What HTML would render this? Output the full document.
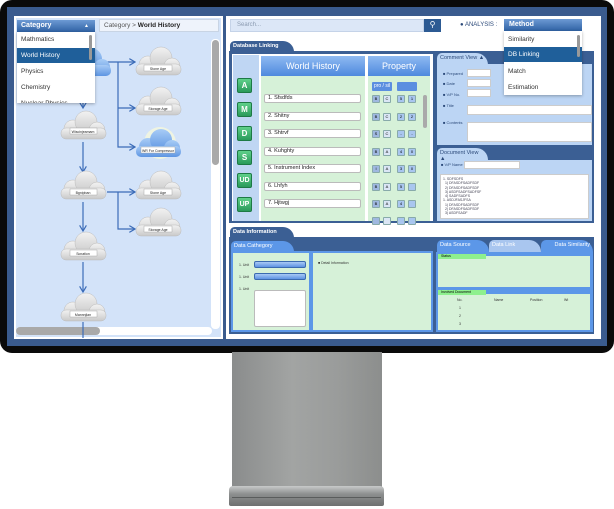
<!DOCTYPE html>
<html><head><meta charset="utf-8"><style>
*{margin:0;padding:0;box-sizing:border-box}
body{width:614px;height:509px;background:#fff;position:relative;overflow:hidden;font-family:"Liberation Sans",sans-serif}
.a{position:absolute}
.t{font-size:7px;color:#333;white-space:nowrap}
.btn{position:absolute;left:237px;width:15px;height:15px;background:linear-gradient(#5fd08a,#2a9a5a);border:1px solid #1d7a45;border-radius:2px;color:#fff;font-size:8px;font-weight:bold;text-align:center;line-height:13px}
.inp{position:absolute;left:264px;width:97px;height:9px;background:#fff;border:1px solid #bbb;border-radius:2px;font-size:5.5px;line-height:7px;padding-left:3px;color:#222}
.sq{position:absolute;width:8px;height:8px;border:1px solid #8aa;border-radius:1px;font-size:4px;text-align:center;line-height:6px}
.hd{background:linear-gradient(#8fbaf2,#4e89de);color:#fff;font-size:9px;text-align:center}
.tab{position:absolute;background:#3b5f94;color:#fff;font-size:5.5px;font-weight:bold;padding:2px 3px;border-radius:5px 12px 0 0}
.tab2{position:absolute;background:#5c97e8;color:#fff;font-size:5.5px;padding:2px 3px;border-radius:5px 12px 0 0}
.dd{position:absolute;font-size:6.5px;color:#333;padding-left:4px}
</style></head><body>
<!-- monitor -->
<div class="a" style="left:0;top:0;width:614px;height:353px;background:#0a0a0a;border-radius:12px"></div>
<div class="a" style="left:7px;top:7px;width:600px;height:339px;background:#3a5b8e"></div>
<div class="a" style="left:232px;top:352px;width:150px;height:136px;background:linear-gradient(90deg,#8a8c8c,#a2a4a3 40%,#9a9c9b 70%,#8c8e8d)"></div>
<div class="a" style="left:229px;top:486px;width:155px;height:20px;border-radius:4px 4px 2px 2px;background:linear-gradient(#c8caca,#8d8f8f 40%,#6e7070)"></div>
<div class="a" style="left:232px;top:497px;width:149px;height:1px;background:#5a5c5c"></div>
<!-- left panel -->
<div class="a" style="left:14px;top:16px;width:209px;height:323px;background:#fff"></div>
<div class="a" style="left:16px;top:18px;width:205px;height:319px;background:#d3e3f9"></div>
<div class="a" style="left:99px;top:19px;width:120px;height:13px;background:#eef3fb;border:1px solid #c8d4e4;font-size:6.5px;color:#555;line-height:11px;padding-left:4px">Category &gt; <b style="color:#222">World History</b></div>
<div class="a" style="left:211px;top:39px;width:9px;height:290px;background:#fff;border-radius:4px"></div>
<div class="a" style="left:212px;top:40px;width:7px;height:125px;background:#a9a9a9;border-radius:4px"></div>
<div class="a" style="left:16px;top:327px;width:196px;height:8px;background:#fff;border-radius:4px"></div>
<div class="a" style="left:16px;top:327px;width:84px;height:8px;background:#a9a9a9;border-radius:4px"></div>
<svg class="a" style="left:0;top:0" width="230" height="345">
<defs>
<linearGradient id="g" x1="0" y1="0" x2="0" y2="1"><stop offset="0" stop-color="#f2f2f2"/><stop offset="1" stop-color="#c9c9c9"/></linearGradient>
<linearGradient id="b" x1="0" y1="0" x2="0" y2="1"><stop offset="0" stop-color="#a8ccf6"/><stop offset="1" stop-color="#5d95e2"/></linearGradient>
<g id="c"><circle cx="-10" cy="4" r="9"/><circle cx="3" cy="-3" r="11"/><circle cx="14" cy="5" r="8"/><rect x="-22" y="3" width="45" height="11" rx="5"/></g>
<marker id="m" markerWidth="6" markerHeight="6" refX="5" refY="3" orient="auto"><path d="M0,0 L5,3 L0,6" fill="none" stroke="#3c6cb8" stroke-width="1"/></marker>
</defs>
<g stroke="#3c6cb8" stroke-width="1.2" fill="none">
<path d="M107 62H135" marker-end="url(#m)"/><path d="M118 62V147H135" marker-end="url(#m)"/><path d="M118 108H135" marker-end="url(#m)"/>
<path d="M83 100V108" marker-end="url(#m)"/><path d="M83 142V172" marker-end="url(#m)"/><path d="M83 202V231" marker-end="url(#m)"/><path d="M83 262V292" marker-end="url(#m)"/><path d="M83 322V338"/>
<path d="M107 192H135" marker-end="url(#m)"/><path d="M118 192V229H135" marker-end="url(#m)"/>
</g>
<g fill="url(#g)" stroke="#bbb" stroke-width="0.5">
<use href="#c" x="83" y="125"/><use href="#c" x="83" y="185"/><use href="#c" x="83" y="246"/><use href="#c" x="83" y="307"/>
<use href="#c" x="158" y="61"/><use href="#c" x="158" y="101"/><use href="#c" x="158" y="185"/><use href="#c" x="158" y="222"/>
</g>
<circle cx="160" cy="143" r="16" fill="#fbfbd8" opacity=".7"/>
<g fill="url(#b)"><use href="#c" x="158" y="143"/><use href="#c" x="88" y="62"/></g>
<g fill="#fff" stroke="#999" stroke-width=".4">
<rect x="70" y="128" width="27" height="6"/><rect x="70" y="189" width="27" height="6"/><rect x="70" y="250" width="27" height="6"/><rect x="70" y="311" width="27" height="6"/>
<rect x="144" y="65" width="28" height="6"/><rect x="144" y="105" width="28" height="6"/><rect x="141" y="147" width="34" height="6"/><rect x="144" y="189" width="28" height="6"/><rect x="144" y="226" width="28" height="6"/>
</g>
<g font-size="3.5" fill="#222" text-anchor="middle" font-family="Liberation Sans">
<text x="83" y="133">Wiscinjeamam</text><text x="83" y="194">Bgnipban</text><text x="83" y="255">Scnation</text><text x="83" y="316">Mannnjlan</text>
<text x="158" y="70">Stone Age</text><text x="158" y="110">Storage Age</text><text x="158" y="152">WR For Compressor</text><text x="158" y="194">Stone Age</text><text x="158" y="231">Storage Age</text>
</g>
</svg>
<!-- category dropdown -->
<div class="a" style="left:17px;top:20px;width:78px;height:12px;background:linear-gradient(#6d9ad4,#2f62a4);color:#fff;font-size:7px;font-weight:bold;line-height:12px;padding-left:4px">Category<span style="float:right;margin-right:6px;font-size:5px">▲</span></div>
<div class="a" style="left:17px;top:32px;width:78px;height:71px;background:#fff;box-shadow:0 1px 3px rgba(0,0,0,.3);overflow:hidden">
<div class="dd" style="top:4px">Mathmatics</div>
<div class="a" style="left:0;top:16px;width:78px;height:15px;background:#1f5f9a"></div>
<div class="dd" style="top:20px;color:#fff">World History</div>
<div class="dd" style="top:36px">Physics</div><div class="dd" style="top:52px">Chemistry</div><div class="dd" style="top:68px">Nuclear Physics</div>
<div class="a" style="left:72px;top:3px;width:3px;height:25px;background:#999;border-radius:2px"></div>
</div>
<!-- right panel -->
<div class="a" style="left:226px;top:16px;width:375px;height:323px;background:#fff"></div>
<div class="a" style="left:230px;top:19px;width:194px;height:13px;background:#dce7f7;border:1px solid #c5d3e8;font-size:6px;color:#8a9ab0;line-height:11px;padding-left:6px">Search...</div>
<div class="a" style="left:424px;top:19px;width:17px;height:13px;background:#2c5a93;color:#fff;font-size:8px;text-align:center;line-height:12px">⚲</div>
<div class="a t" style="left:460px;top:22px;font-size:6px;color:#2c4a7a"><span style="color:#2c4a7a">●</span> ANALYSIS :</div>
<!-- database linking -->
<div class="tab" style="left:230px;top:41px;width:64px;height:11px">Database Linking</div>
<div class="a" style="left:229px;top:51px;width:365px;height:172px;background:#3b5f94"></div>
<div class="a" style="left:232px;top:54px;width:201px;height:167px;background:#fff"></div>
<div class="a" style="left:233px;top:55px;width:26px;height:166px;background:#bfd6f3"></div>
<div class="btn" style="top:78px">A</div><div class="btn" style="top:102px">M</div><div class="btn" style="top:126px">D</div><div class="btn" style="top:150px">S</div><div class="btn" style="top:173px;font-size:7px">UD</div><div class="btn" style="top:197px;font-size:7px">UP</div>
<div class="a hd" style="left:261px;top:56px;width:104px;height:20px;line-height:20px">World History</div>
<div class="a" style="left:261px;top:76px;width:104px;height:145px;background:#d6f1d8"></div>
<div class="a hd" style="left:368px;top:56px;width:62px;height:20px;line-height:20px">Property</div>
<div class="a" style="left:368px;top:76px;width:62px;height:145px;background:#d6f1d8"></div>
<div class="inp" style="top:94px">1. Sfsdfds</div><div class="inp" style="top:112px">2. Shitny</div><div class="inp" style="top:129px">3. Shtrvf</div><div class="inp" style="top:147px">4. Kuhghty</div><div class="inp" style="top:164px">5. Instrument Index</div><div class="inp" style="top:182px">6. Lhfyh</div><div class="inp" style="top:199px">7. Hjtwgj</div>
<div class="a" style="left:372px;top:82px;width:20px;height:9px;background:#5b8ee0;color:#fff;font-size:5px;text-align:center;line-height:9px;border-radius:1px">pro / sil</div>
<div class="a" style="left:397px;top:82px;width:20px;height:9px;background:#5b8ee0;border-radius:1px"></div>
<div class="a" style="left:423px;top:95px;width:4px;height:33px;background:#aaa;border-radius:2px"></div>
<div id="sqs"></div>
<!-- comment view -->
<div class="tab2" style="left:437px;top:53px;width:51px;height:12px;background:#bcd5f4;color:#2c4a7a">Comment View ▲</div>
<div class="a" style="left:437px;top:64px;width:155px;height:81px;background:#bcd5f4"></div>
<div class="a" style="left:443px;top:67px;width:146px;height:75px;font-size:4px;color:#2c4a7a">
<div class="a" style="top:4px">■ Prepared</div><div class="a" style="top:14px">■ Date</div><div class="a" style="top:25px">■ V/P No.</div><div class="a" style="top:36px">■ Title</div><div class="a" style="top:53px">■ Contents</div>
<div class="a" style="left:24px;top:2px;width:24px;height:8px;background:#fff;border:1px solid #ccc"></div>
<div class="a" style="left:24px;top:12px;width:24px;height:8px;background:#fff;border:1px solid #ccc"></div>
<div class="a" style="left:24px;top:22px;width:24px;height:8px;background:#fff;border:1px solid #ccc"></div>
<div class="a" style="left:24px;top:38px;width:125px;height:10px;background:#fff;border:1px solid #ccc"></div>
<div class="a" style="left:24px;top:55px;width:125px;height:20px;background:#fff;border:1px solid #ccc"></div>
</div>
<div class="tab2" style="left:437px;top:148px;width:51px;height:12px;background:#bcd5f4;color:#2c4a7a">Document View ▲</div>
<div class="a" style="left:437px;top:160px;width:155px;height:61px;background:#bcd5f4"></div>
<div class="a" style="left:441px;top:162px;width:80px;height:8px;font-size:4px;color:#2c4a7a">■ V/P Name<span style="position:absolute;left:23px;top:-1px;width:56px;height:8px;background:#fff;border:1px solid #ccc"></span></div>
<div class="a" style="left:440px;top:174px;width:149px;height:45px;background:#fff;border:1px solid #ccc;font-size:3.5px;line-height:4.3px;color:#445;padding:2px">1. SDFSDFS<br>&nbsp; 1) DFASDFSADFSDF<br>&nbsp; 2) DFASDFSADFSDF<br>&nbsp; 3) ASDFSADFSADFSF<br>&nbsp; 4) SADFSADFS<br>1. ASDJFASJFSA<br>&nbsp; 1) DFASDFSADFSDF<br>&nbsp; 2) DFASDFSADFSDF<br>&nbsp; 3) ASDFSADF</div>
<!-- method dropdown -->
<div class="a" style="left:504px;top:19px;width:78px;height:12px;background:linear-gradient(#6d9ad4,#2f62a4);color:#fff;font-size:7px;font-weight:bold;line-height:12px;padding-left:5px">Method</div>
<div class="a" style="left:504px;top:31px;width:78px;height:64px;background:#fff;box-shadow:0 1px 3px rgba(0,0,0,.3)">
<div class="dd" style="top:5px">Similarity</div>
<div class="a" style="left:0;top:16px;width:78px;height:15px;background:#1f5f9a"></div>
<div class="dd" style="top:20px;color:#fff">DB Linking</div>
<div class="dd" style="top:37px">Match</div><div class="dd" style="top:53px">Estimation</div>
<div class="a" style="left:73px;top:4px;width:3px;height:22px;background:#999;border-radius:2px"></div>
</div>
<!-- data information -->
<div class="tab" style="left:230px;top:227px;width:64px;height:11px">Data Information</div>
<div class="a" style="left:229px;top:237px;width:365px;height:97px;background:#3b5f94"></div>
<div class="tab2" style="left:231px;top:241px;width:63px;height:11px">Data Cathegory</div>
<div class="a" style="left:231px;top:251px;width:202px;height:81px;background:#5c97e8"></div>
<div class="a" style="left:233px;top:253px;width:76px;height:77px;background:#d6f1d8"></div>
<div class="a" style="left:313px;top:253px;width:118px;height:77px;background:#d6f1d8"></div>
<div class="a" style="left:318px;top:261px;font-size:3.5px;color:#333">■ Detail Information</div>
<div class="a" style="left:239px;top:263px;font-size:3.5px;color:#333">1. Unit</div>
<div class="a" style="left:239px;top:275px;font-size:3.5px;color:#333">1. Unit</div>
<div class="a" style="left:239px;top:287px;font-size:3.5px;color:#333">1. Unit</div>
<div class="a" style="left:254px;top:261px;width:52px;height:7px;background:linear-gradient(#a8c9f5,#5d93e2);border:1px solid #3a6ab0;border-radius:2px"></div>
<div class="a" style="left:254px;top:273px;width:52px;height:7px;background:linear-gradient(#a8c9f5,#5d93e2);border:1px solid #3a6ab0;border-radius:2px"></div>
<div class="a" style="left:254px;top:290px;width:52px;height:37px;background:#fff;border:1px solid #bbb;border-radius:2px"></div>
<div class="tab2" style="left:437px;top:240px;width:52px;height:13px">Data Source</div>
<div class="tab2" style="left:489px;top:240px;width:52px;height:13px;background:#a9c6ef">Data Link</div>
<div class="tab2" style="left:541px;top:240px;width:52px;height:13px;text-align:right">Data Similarity</div>
<div class="a" style="left:436px;top:252px;width:157px;height:80px;background:#5c97e8"></div>
<div class="a" style="left:438px;top:256px;width:152px;height:31px;background:#d6f1d8"></div>
<div class="a" style="left:438px;top:254px;width:48px;height:5px;background:#8ef08e;font-size:3.5px;padding-left:3px">Status</div>
<div class="a" style="left:438px;top:294px;width:152px;height:36px;background:#d6f1d8;font-size:3.5px;color:#333"><span class="a" style="left:19px;top:4px">No.</span><span class="a" style="left:56px;top:4px">Name</span><span class="a" style="left:92px;top:4px">Position</span><span class="a" style="left:126px;top:4px">Wt</span><span class="a" style="left:21px;top:12px">1</span><span class="a" style="left:21px;top:20px">2</span><span class="a" style="left:21px;top:28px">3</span></div>
<div class="a" style="left:438px;top:290px;width:48px;height:5px;background:#8ef08e;font-size:3.5px;padding-left:3px">Involved Document</div>
<script>
var s='',ys=[95,113,130,148,165,183,200,217],L=[['B','C','5','1'],['B','C','2','2'],['S','C','-','-'],['B','A','4','0'],['I','A','3','0'],['B','A','5',''],['B','A','4',''],['','','','']],xs=[372,383,397,408];
ys.forEach(function(y,i){xs.forEach(function(x,j){var bg=j==1?'#dbe6f5':(j==0?'#9fb8e0':'#a9c6ef');s+='<div class="sq" style="left:'+x+'px;top:'+y+'px;background:'+bg+'">'+L[i][j]+'</div>'})});
document.getElementById('sqs').innerHTML=s;
</script>
</body></html>
